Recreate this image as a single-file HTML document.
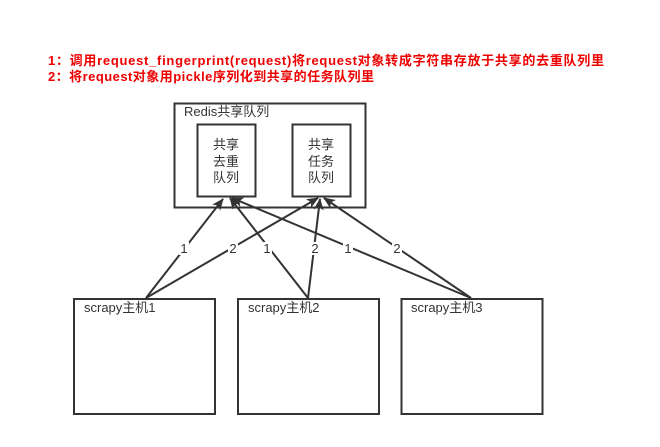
<!DOCTYPE html>
<html><head><meta charset="utf-8"><style>
html,body{margin:0;padding:0;background:#fff;}
svg{display:block;}
text{font-family:"Liberation Sans","Noto Sans CJK SC",sans-serif;}
</style></head><body>
<svg width="660" height="447" viewBox="0 0 660 447" xmlns="http://www.w3.org/2000/svg">
<defs>
<marker id="a" markerWidth="12" markerHeight="10" refX="11" refY="5" orient="auto" markerUnits="userSpaceOnUse">
<path d="M0,0 L12,5 L0,10 L3,5 Z" fill="#333"/>
</marker>
</defs>
<text x="48" y="65" font-size="13" font-weight="bold" fill="#e00" textLength="556" lengthAdjust="spacing">1：调用request_fingerprint(request)将request对象转成字符串存放于共享的去重队列里</text>
<text x="48" y="81" font-size="13" font-weight="bold" fill="#e00" textLength="326" lengthAdjust="spacing">2：将request对象用pickle序列化到共享的任务队列里</text>
<g fill="none" stroke="#333" stroke-width="2">
<rect x="174.5" y="103.5" width="191" height="104"/>
<rect x="197.5" y="124.5" width="58" height="72"/>
<rect x="292.5" y="124.5" width="58" height="72"/>
<rect x="74" y="299" width="141" height="115"/>
<rect x="238" y="299" width="141" height="115"/>
<rect x="401.5" y="299" width="141" height="115"/>
</g>
<g stroke="#333" stroke-width="2" marker-end="url(#a)">
<line x1="146" y1="298" x2="223" y2="199"/>
<line x1="146" y1="298" x2="318" y2="198"/>
<line x1="308" y1="298" x2="230" y2="198"/>
<line x1="308" y1="298" x2="320" y2="199"/>
<line x1="471" y1="298" x2="232" y2="198"/>
<line x1="471" y1="298" x2="324" y2="198"/>
</g>
<g font-size="13" fill="#333" text-anchor="middle">
<rect x="179" y="242" width="10" height="13" fill="#fff"/><text x="184" y="253">1</text>
<rect x="228" y="242" width="10" height="13" fill="#fff"/><text x="233" y="253">2</text>
<rect x="262" y="242" width="10" height="13" fill="#fff"/><text x="267" y="253">1</text>
<rect x="310" y="242" width="10" height="13" fill="#fff"/><text x="315" y="253">2</text>
<rect x="343" y="242" width="10" height="13" fill="#fff"/><text x="348" y="253">1</text>
<rect x="392" y="242" width="10" height="13" fill="#fff"/><text x="397" y="253">2</text>
</g>
<g font-size="13" fill="#333">
<text x="184" y="116">Redis共享队列</text>
<text x="226" y="149" text-anchor="middle">共享</text>
<text x="226" y="166" text-anchor="middle">去重</text>
<text x="226" y="182" text-anchor="middle">队列</text>
<text x="321" y="149" text-anchor="middle">共享</text>
<text x="321" y="166" text-anchor="middle">任务</text>
<text x="321" y="182" text-anchor="middle">队列</text>
<text x="84" y="312">scrapy主机1</text>
<text x="248" y="312">scrapy主机2</text>
<text x="411" y="312">scrapy主机3</text>
</g>
</svg>
</body></html>
